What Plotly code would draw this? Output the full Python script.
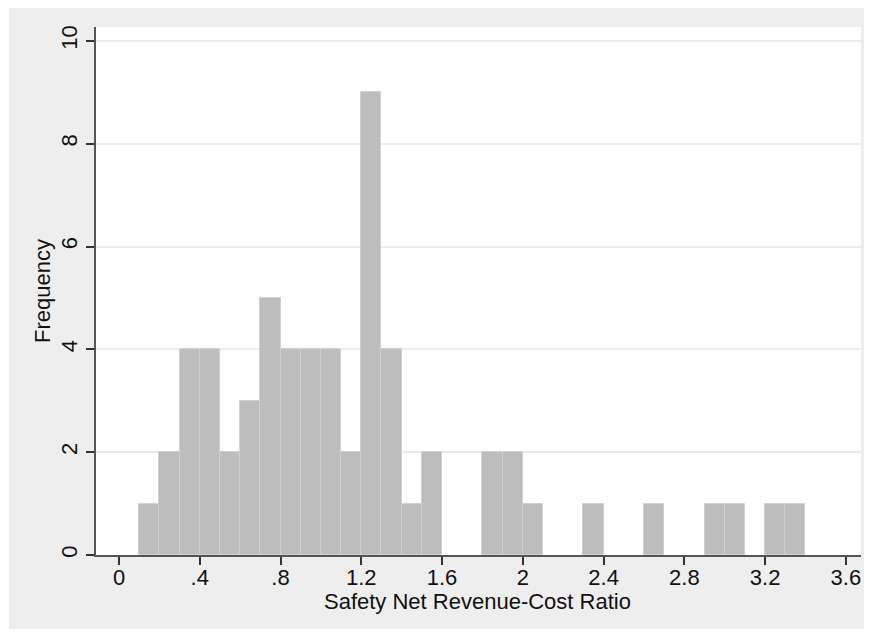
import plotly.graph_objects as go

# Histogram data: bin left edges (width 0.1) and frequencies
bin_left = [0.1, 0.2, 0.3, 0.4, 0.5, 0.6, 0.7, 0.8, 0.9, 1.0, 1.1, 1.2, 1.3, 1.4, 1.5,
            1.6, 1.7, 1.8, 1.9, 2.0, 2.1, 2.2, 2.3, 2.4, 2.5, 2.6, 2.7, 2.8, 2.9, 3.0,
            3.1, 3.2, 3.3]
frequency = [1, 2, 4, 4, 2, 3, 5, 4, 4, 4, 2, 9, 4, 1, 2,
             0, 0, 2, 2, 1, 0, 0, 1, 0, 0, 1, 0, 0, 1, 1,
             0, 1, 1]
bin_width = 0.1

x_ticks = [0, 0.4, 0.8, 1.2, 1.6, 2.0, 2.4, 2.8, 3.2, 3.6]
x_tick_labels = ["0", ".4", ".8", "1.2", "1.6", "2", "2.4", "2.8", "3.2", "3.6"]
y_ticks = [0, 2, 4, 6, 8, 10]

FONT = "Liberation Sans, Arial, Helvetica, sans-serif"
FS = 22

# empty bins are not drawn
bar_heights = [v if v > 0 else None for v in frequency]

fig = go.Figure()
fig.add_trace(go.Bar(
    x=bin_left, y=bar_heights, width=bin_width, offset=0,
    marker=dict(color="#bdbdbd", line=dict(color="#d0d0d0", width=1)),
    showlegend=False,
))

# The page body has an 8px margin; size the figure so the page does not overflow.
OFF = 8
W, H = 872 - 2 * OFF, 637 - 2 * OFF
ml, mt = 96 - OFF, 27 - OFF
pw, ph = 765, 528
mr, mb = W - ml - pw, H - mt - ph

fig.update_layout(
    width=W, height=H,
    margin=dict(l=ml, r=mr, t=mt, b=mb, pad=0, autoexpand=False),
    paper_bgcolor="#eeeeee",
    plot_bgcolor="white",
    font=dict(family=FONT, size=FS, color="#111111"),
    bargap=0,
    shapes=[
        dict(type="rect", xref="paper", yref="paper",
             x0=-ml / pw - 0.01, x1=(1 - ml) / pw,
             y0=-mb / ph - 0.01, y1=(ph + mt + 2) / ph,
             fillcolor="white", line=dict(width=0), layer="below"),
    ],
    annotations=[
        dict(text="Safety Net Revenue-Cost Ratio", xref="paper", yref="paper",
             x=(477 - 96) / pw, y=-(601 - 555) / ph,
             xanchor="center", yanchor="middle", showarrow=False,
             font=dict(size=FS)),
        dict(text="Frequency", xref="paper", yref="paper",
             x=(42 - 96) / pw, y=0.5, textangle=-90,
             xanchor="center", yanchor="middle", showarrow=False,
             font=dict(size=FS)),
    ],
)

fig.update_xaxes(
    range=[-0.114, 3.675],
    tickmode="array", tickvals=x_ticks, ticktext=x_tick_labels,
    ticks="outside", ticklen=8, tickwidth=1.5, tickcolor="#333333",
    showline=True, linecolor="#555555", linewidth=2,
    showgrid=False, zeroline=False, automargin=False,
    tickfont=dict(size=FS), ticklabelstandoff=-6,
)
fig.update_yaxes(
    range=[0, 10.27],
    tickmode="array", tickvals=y_ticks,
    ticks="outside", ticklen=8, tickwidth=1.5, tickcolor="#333333",
    showline=True, linecolor="#555555", linewidth=2,
    showgrid=True, gridcolor="#ececec", gridwidth=1.5,
    zeroline=False, automargin=False,
    tickangle=-90,
    tickfont=dict(size=FS),
)

fig.write_html("out.html")
